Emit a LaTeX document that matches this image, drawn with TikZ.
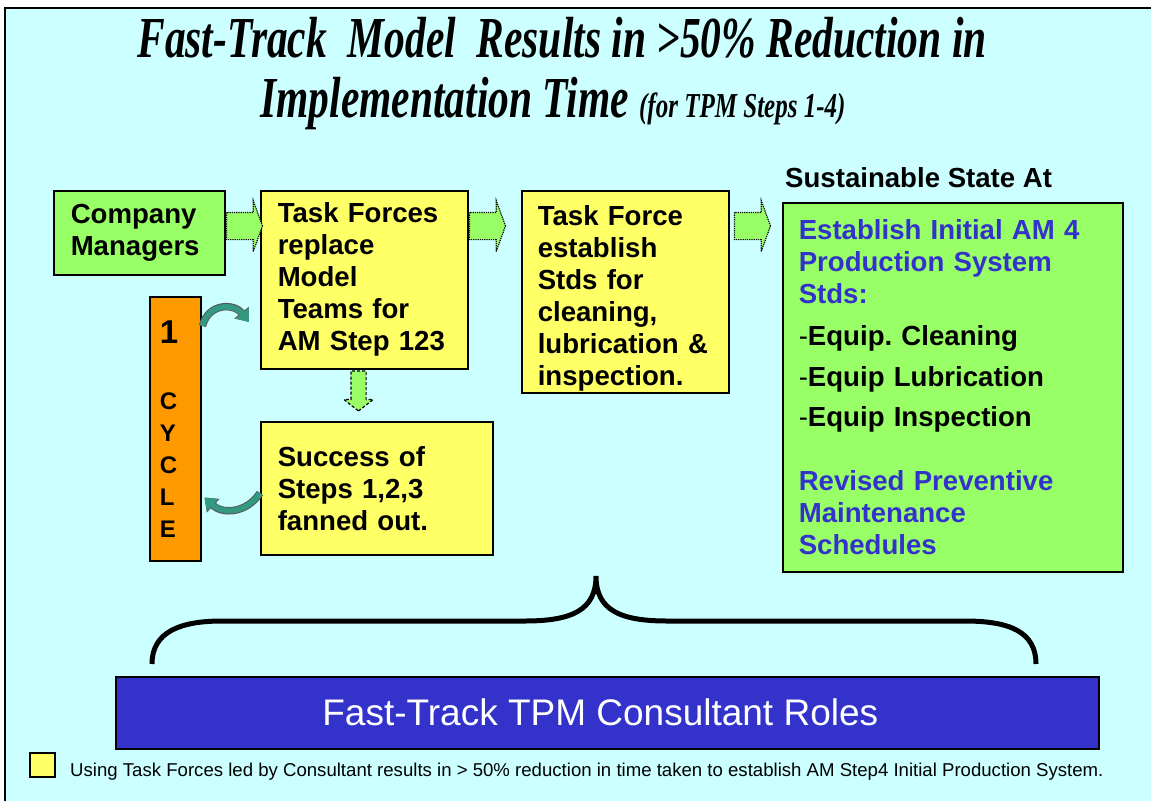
\documentclass[tikz,border=0pt]{standalone}
\usepackage{fontspec}
\usepackage{xcolor}
\usetikzlibrary{shapes.arrows,arrows.meta,calc}

\setmainfont{Liberation Sans}
\newfontfamily\titlefont{Liberation Serif}[FakeStretch=0.715]

\definecolor{bgcyan}{HTML}{CCFFFF}
\definecolor{boxgreen}{HTML}{99FF66}
\definecolor{boxyellow}{HTML}{FFFF66}
\definecolor{boxorange}{HTML}{FF9900}
\definecolor{roleblue}{HTML}{3333CC}
\definecolor{cycteal}{HTML}{339980}

\tikzset{
  box/.style={draw=black, line width=1.5pt, align=left, inner xsep=17pt, inner ysep=0pt,
    font=\bfseries\fontsize{27.6}{32}\selectfont},
  flowarr/.style={single arrow, fill=boxgreen, draw=black, densely dotted, line width=1.2pt,
    inner sep=13pt, minimum width=50pt, minimum height=36pt,
    single arrow head extend=12pt, single arrow tip angle=140},
  cyclearr/.style={line width=5.5pt, draw=cycteal, -{Triangle[length=11pt,width=16pt]},
    preaction={draw=black!65, line width=7.5pt, -{Triangle[length=12pt,width=18pt]}}}
}

\begin{document}
\frenchspacing
\begin{tikzpicture}[x=1pt,y=-1pt]
        \useasboundingbox (0,0) rectangle (1151,801);
        \fill[white] (0,0) rectangle (1151,801);
        \fill[bgcyan] (5,8) rectangle (1151,801);
        \draw[line width=2.5pt] (5,801) -- (5,8) -- (1151,8);

        % title
        \node[anchor=base, font=\titlefont\bfseries\itshape\fontsize{58}{64}\selectfont] (t1) at (562,57)
          {Fast-Track\ \ Model\ \ Results in >50\% Reduction in};
        \node[anchor=base, font=\titlefont\bfseries\itshape\fontsize{58}{64}\selectfont] (t2) at (553,117)
          {Implementation Time {\fontsize{35}{40}\selectfont(for TPM Steps 1-4)}};

        % boxes
        \node[box, fill=boxgreen, anchor=north west, text width=137pt, minimum height=84pt] (cm) at (53,190)
          {Company\\Managers};
        \node[box, fill=boxyellow, anchor=north west, text width=173pt, minimum height=178pt] (tf) at (260,190)
          {Task Forces\\replace\\Model\\Teams for\\AM Step 123};
        \node[box, fill=boxyellow, anchor=north west, text width=175pt, inner xsep=16pt, minimum height=202pt] (est) at (521,190)
          {\rule{0pt}{34pt}Task Force\\establish\\Stds for\\cleaning,\\lubrication \&\\inspection.};
        \node[box, fill=boxyellow, anchor=north west, text width=198pt, minimum height=133pt] (succ) at (260,421)
          {Success of\\Steps 1,2,3\\fanned out.};
        \node[box, fill=boxorange, anchor=north west, text width=31pt, inner xsep=10pt, minimum height=264pt,
          font=\bfseries\fontsize{24}{32}\selectfont] (cyc) at (149,296)
          {{\fontsize{33}{32}\selectfont 1}\\[34pt]C\\Y\\C\\L\\E};

        \node[anchor=base west, font=\bfseries\fontsize{27.6}{32}\selectfont, inner sep=0pt] (sst) at (785,187)
          {Sustainable State At};
        \node[box, fill=boxgreen, anchor=north west, text width=308pt, inner xsep=16pt, minimum height=369pt] (am4) at (782,202)
          {\textcolor{roleblue}{Establish Initial AM 4}\\\textcolor{roleblue}{Production System}\\\textcolor{roleblue}{Stds:}\\[10pt]
           {\mdseries\color{black}-}Equip. Cleaning\\[9pt]
           {\mdseries\color{black}-}Equip Lubrication\\[8pt]
           {\mdseries\color{black}-}Equip Inspection\\[32pt]
           \textcolor{roleblue}{Revised Preventive}\\\textcolor{roleblue}{Maintenance}\\\textcolor{roleblue}{Schedules}};

        % flow arrows
        \node[flowarr] (a1) at (242,226) {};
        \node[flowarr] (a2) at (485,226) {};
        \node[flowarr] (a3) at (750,226) {};
        \node[flowarr, densely dashed, shape border rotate=270, inner sep=7pt, minimum width=28pt, minimum height=40pt,
          single arrow head extend=7pt, single arrow tip angle=104] (a4) at (358.5,388) {};

        % cycle arrows
        \draw[cyclearr] ($(cyc.north east)+(1,30)$) .. controls (208,303) and (234,303) .. ($(tf.west |- 0,322)+(-11,0)$);
        \draw[cyclearr] (succ.west |- 0,493) .. controls (246,514) and (222,514) .. ($(cyc.south east)+(3,-64)$);

        % brace
        \draw[line width=5pt] (152,664) .. controls (152,632) and (180,621) .. (222,621) -- (525,621)
          .. controls (572,621) and (596,610) .. (596,576)
          .. controls (596,610) and (620,621) .. (667,621) -- (965,621)
          .. controls (1010,621) and (1036,632) .. (1036,664);

        % consultant roles
        \node[draw=black, line width=1.5pt, fill=roleblue, text=white, anchor=north west,
          minimum width=983pt, minimum height=72pt, font=\fontsize{37}{40}\selectfont] (roles) at (115,676)
          {Fast-Track TPM Consultant Roles\hspace*{14pt}};

        % legend
        \node[draw=black, line width=1.5pt, fill=boxyellow, anchor=north west, minimum width=25pt,
          minimum height=24pt, inner sep=0pt] (key) at (29,752) {};
        \node[anchor=base west, inner sep=0pt, font=\fontsize{18.6}{20}\selectfont] (keytxt) at (70,776)
          {Using Task Forces led by Consultant results in > 50\% reduction in time taken to establish AM Step4 Initial Production System.};
\end{tikzpicture}
\end{document}
